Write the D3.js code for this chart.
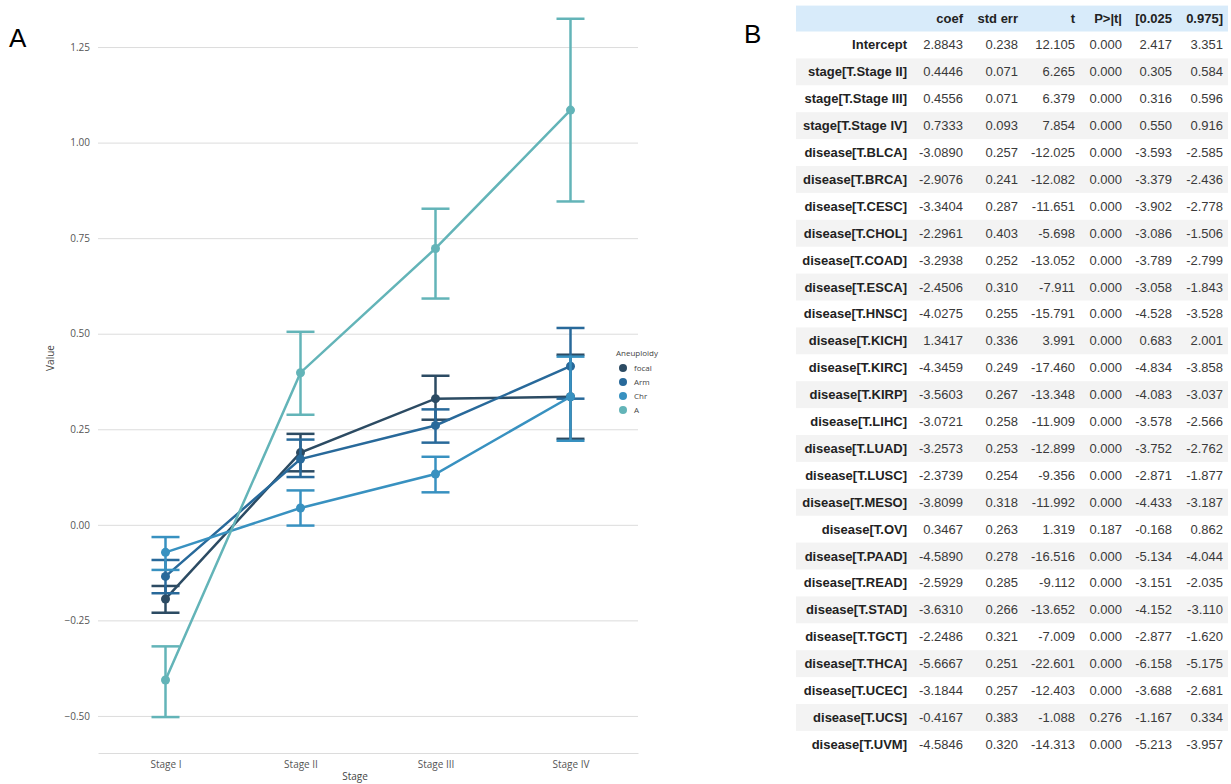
<!DOCTYPE html>
<html lang="en">
<head>
<meta charset="UTF-8">
<title>Aneuploidy by stage</title>
<script src="https://d3js.org/d3.v7.min.js"></script>
<style>
    body { margin: 0; background: #fff; }
    svg { display: block; }
    .tick text { font: 10px "Open Sans", sans-serif; fill: #555; }
    .lbl { font: 10px "Open Sans", sans-serif; fill: #444; }
    .tbl { font: 13px "Liberation Sans", Arial, sans-serif; fill: #3a3a3a; }
    .tbl.b { font-weight: bold; fill: #222; }
</style>
</head>
<body>
<svg width="1231" height="784"></svg>
<script>
    // chart data (panel A)
    const stages = ["Stage I", "Stage II", "Stage III", "Stage IV"];
    const groups = ["focal", "Arm", "Chr", "A"];
    const colors = ["#2c4b63", "#28699a", "#3891c0", "#63b4b8"];
    const means = [
        [-0.194, 0.189, 0.330, 0.335],
        [-0.135, 0.172, 0.260, 0.415],
        [-0.072, 0.044, 0.133, 0.335],
        [-0.406, 0.398, 0.723, 1.085]
    ];
    const lower = [
        [-0.230, 0.140, 0.275, 0.225],
        [-0.179, 0.125, 0.215, 0.330],
        [-0.118, -0.002, 0.085, 0.220],
        [-0.503, 0.288, 0.592, 0.846]
    ];
    const upper = [
        [-0.160, 0.238, 0.390, 0.445],
        [-0.092, 0.223, 0.302, 0.515],
        [-0.032, 0.090, 0.178, 0.440],
        [-0.318, 0.505, 0.827, 1.324]
    ];
    const yTicks = [-0.5, -0.25, 0, 0.25, 0.5, 0.75, 1.0, 1.25];

    // table data (panel B)
    const headers = ["coef", "std err", "t", "P>|t|", "[0.025", "0.975]"];
    const rowLabels = ["Intercept", "stage[T.Stage II]", "stage[T.Stage III]", "stage[T.Stage IV]",
        "disease[T.BLCA]", "disease[T.BRCA]", "disease[T.CESC]", "disease[T.CHOL]", "disease[T.COAD]",
        "disease[T.ESCA]", "disease[T.HNSC]", "disease[T.KICH]", "disease[T.KIRC]", "disease[T.KIRP]",
        "disease[T.LIHC]", "disease[T.LUAD]", "disease[T.LUSC]", "disease[T.MESO]", "disease[T.OV]",
        "disease[T.PAAD]", "disease[T.READ]", "disease[T.STAD]", "disease[T.TGCT]", "disease[T.THCA]",
        "disease[T.UCEC]", "disease[T.UCS]", "disease[T.UVM]"];
    const coef = [2.8843, 0.4446, 0.4556, 0.7333, -3.0890, -2.9076, -3.3404, -2.2961, -3.2938, -2.4506,
        -4.0275, 1.3417, -4.3459, -3.5603, -3.0721, -3.2573, -2.3739, -3.8099, 0.3467, -4.5890, -2.5929,
        -3.6310, -2.2486, -5.6667, -3.1844, -0.4167, -4.5846];
    const stdErr = [0.238, 0.071, 0.071, 0.093, 0.257, 0.241, 0.287, 0.403, 0.252, 0.310, 0.255, 0.336,
        0.249, 0.267, 0.258, 0.253, 0.254, 0.318, 0.263, 0.278, 0.285, 0.266, 0.321, 0.251, 0.257, 0.383, 0.320];
    const tVal = [12.105, 6.265, 6.379, 7.854, -12.025, -12.082, -11.651, -5.698, -13.052, -7.911, -15.791,
        3.991, -17.460, -13.348, -11.909, -12.899, -9.356, -11.992, 1.319, -16.516, -9.112, -13.652, -7.009,
        -22.601, -12.403, -1.088, -14.313];
    const pVal = [0, 0, 0, 0, 0, 0, 0, 0, 0, 0, 0, 0, 0, 0, 0, 0, 0, 0, 0.187, 0, 0, 0, 0, 0, 0, 0.276, 0];
    const ciLow = [2.417, 0.305, 0.316, 0.550, -3.593, -3.379, -3.902, -3.086, -3.789, -3.058, -4.528, 0.683,
        -4.834, -4.083, -3.578, -3.752, -2.871, -4.433, -0.168, -5.134, -3.151, -4.152, -2.877, -6.158,
        -3.688, -1.167, -5.213];
    const ciHigh = [3.351, 0.584, 0.596, 0.916, -2.585, -2.436, -2.778, -1.506, -2.799, -1.843, -3.528, 2.001,
        -3.858, -3.037, -2.566, -2.762, -1.877, -3.187, 0.862, -4.044, -2.035, -3.110, -1.620, -5.175,
        -2.681, 0.334, -3.957];

    const svg = d3.select("svg");

    // ---------- panel A ----------
    const x = d3.scalePoint().domain(stages).range([98, 638]).padding(0.5);
    const y = d3.scaleLinear().domain([-0.597, 1.36]).range([753, 5]);

    const g = svg.append("g");

    // gridlines + tick labels
    const yAxis = g.append("g")
        .attr("transform", "translate(98,0)")
        .call(d3.axisLeft(y).tickValues(yTicks).tickFormat(d3.format(".2f")).tickSize(-540).tickPadding(8));
    yAxis.select(".domain").remove();
    yAxis.selectAll(".tick line").attr("stroke", "#dcdcdc").attr("stroke-width", 1);

    const xAxis = g.append("g")
        .attr("transform", "translate(0,753)")
        .call(d3.axisBottom(x).tickSize(0).tickPadding(6));
    xAxis.select(".domain").attr("stroke", "#dcdcdc");
    xAxis.selectAll(".tick text").attr("dy", "0.9em");

    g.append("text").attr("class", "lbl")
        .attr("x", 355).attr("y", 780).attr("text-anchor", "middle").text("Stage");
    g.append("text").attr("class", "lbl")
        .attr("transform", "translate(54,358) rotate(-90)")
        .attr("text-anchor", "middle").text("Value");

    const line = d3.line().x((d, i) => x(stages[i])).y(d => y(d));

    groups.forEach((name, k) => {
        const s = g.append("g").attr("stroke", colors[k]).attr("fill", colors[k]);
        // error bars
        stages.forEach((st, i) => {
            const cx = x(st);
            s.append("line").attr("x1", cx).attr("x2", cx)
                .attr("y1", y(lower[k][i])).attr("y2", y(upper[k][i])).attr("stroke-width", 2.5);
            [lower[k][i], upper[k][i]].forEach(v => {
                s.append("line").attr("x1", cx - 14).attr("x2", cx + 14)
                    .attr("y1", y(v)).attr("y2", y(v)).attr("stroke-width", 2.5);
            });
        });
        s.append("path").datum(means[k]).attr("d", line)
            .attr("fill", "none").attr("stroke-width", 2.5);
        s.selectAll("circle").data(means[k]).join("circle")
            .attr("cx", (d, i) => x(stages[i])).attr("cy", d => y(d)).attr("r", 4.5)
            .attr("stroke", "none");
    });

    // legend
    const leg = g.append("g").attr("transform", "translate(616,353)");
    leg.append("text").attr("class", "lbl").style("font-size", "8px").attr("x", 0).attr("y", 3).text("Aneuploidy");
    groups.forEach((name, k) => {
        leg.append("circle").attr("cx", 7).attr("cy", 15 + k * 14).attr("r", 4).attr("fill", colors[k]);
        leg.append("text").attr("class", "lbl").style("font-size", "8px")
            .attr("x", 18).attr("y", 18 + k * 14).text(name);
    });

    // panel letters
    svg.append("text").attr("x", 9).attr("y", 47).style("font", "26px 'Liberation Sans', Arial, sans-serif").text("A");
    svg.append("text").attr("x", 744).attr("y", 43).style("font", "26px 'Liberation Sans', Arial, sans-serif").text("B");

    // ---------- panel B (table) ----------
    const rowH = 26.9;
    const firstTop = 31.5;
    const colRight = [963, 1018, 1075, 1122, 1172, 1223];
    const cols = [coef.map(v => v.toFixed(4)), stdErr.map(v => v.toFixed(3)), tVal.map(v => v.toFixed(3)),
        pVal.map(v => v.toFixed(3)), ciLow.map(v => v.toFixed(3)), ciHigh.map(v => v.toFixed(3))];

    const t = svg.append("g");
    t.append("rect").attr("x", 796).attr("y", firstTop - rowH + 1).attr("width", 432).attr("height", rowH - 1)
        .attr("fill", "#d8ebfa");
    headers.forEach((h, j) => {
        t.append("text").attr("class", "tbl b").attr("x", colRight[j]).attr("y", firstTop - rowH / 2 + 4.5)
            .attr("text-anchor", "end").text(h);
    });

    rowLabels.forEach((lab, i) => {
        const top = firstTop + i * rowH;
        if (i % 2 === 1) {
            t.append("rect").attr("x", 796).attr("y", top).attr("width", 432).attr("height", rowH)
                .attr("fill", "#f3f3f3");
        }
        const cy = top + rowH / 2 + 4.5;
        t.append("text").attr("class", "tbl b").attr("x", 907).attr("y", cy)
            .attr("text-anchor", "end").text(lab);
        cols.forEach((c, j) => {
            t.append("text").attr("class", "tbl").attr("x", colRight[j]).attr("y", cy)
                .attr("text-anchor", "end").text(c[i]);
        });
    });
</script>
</body>
</html>
